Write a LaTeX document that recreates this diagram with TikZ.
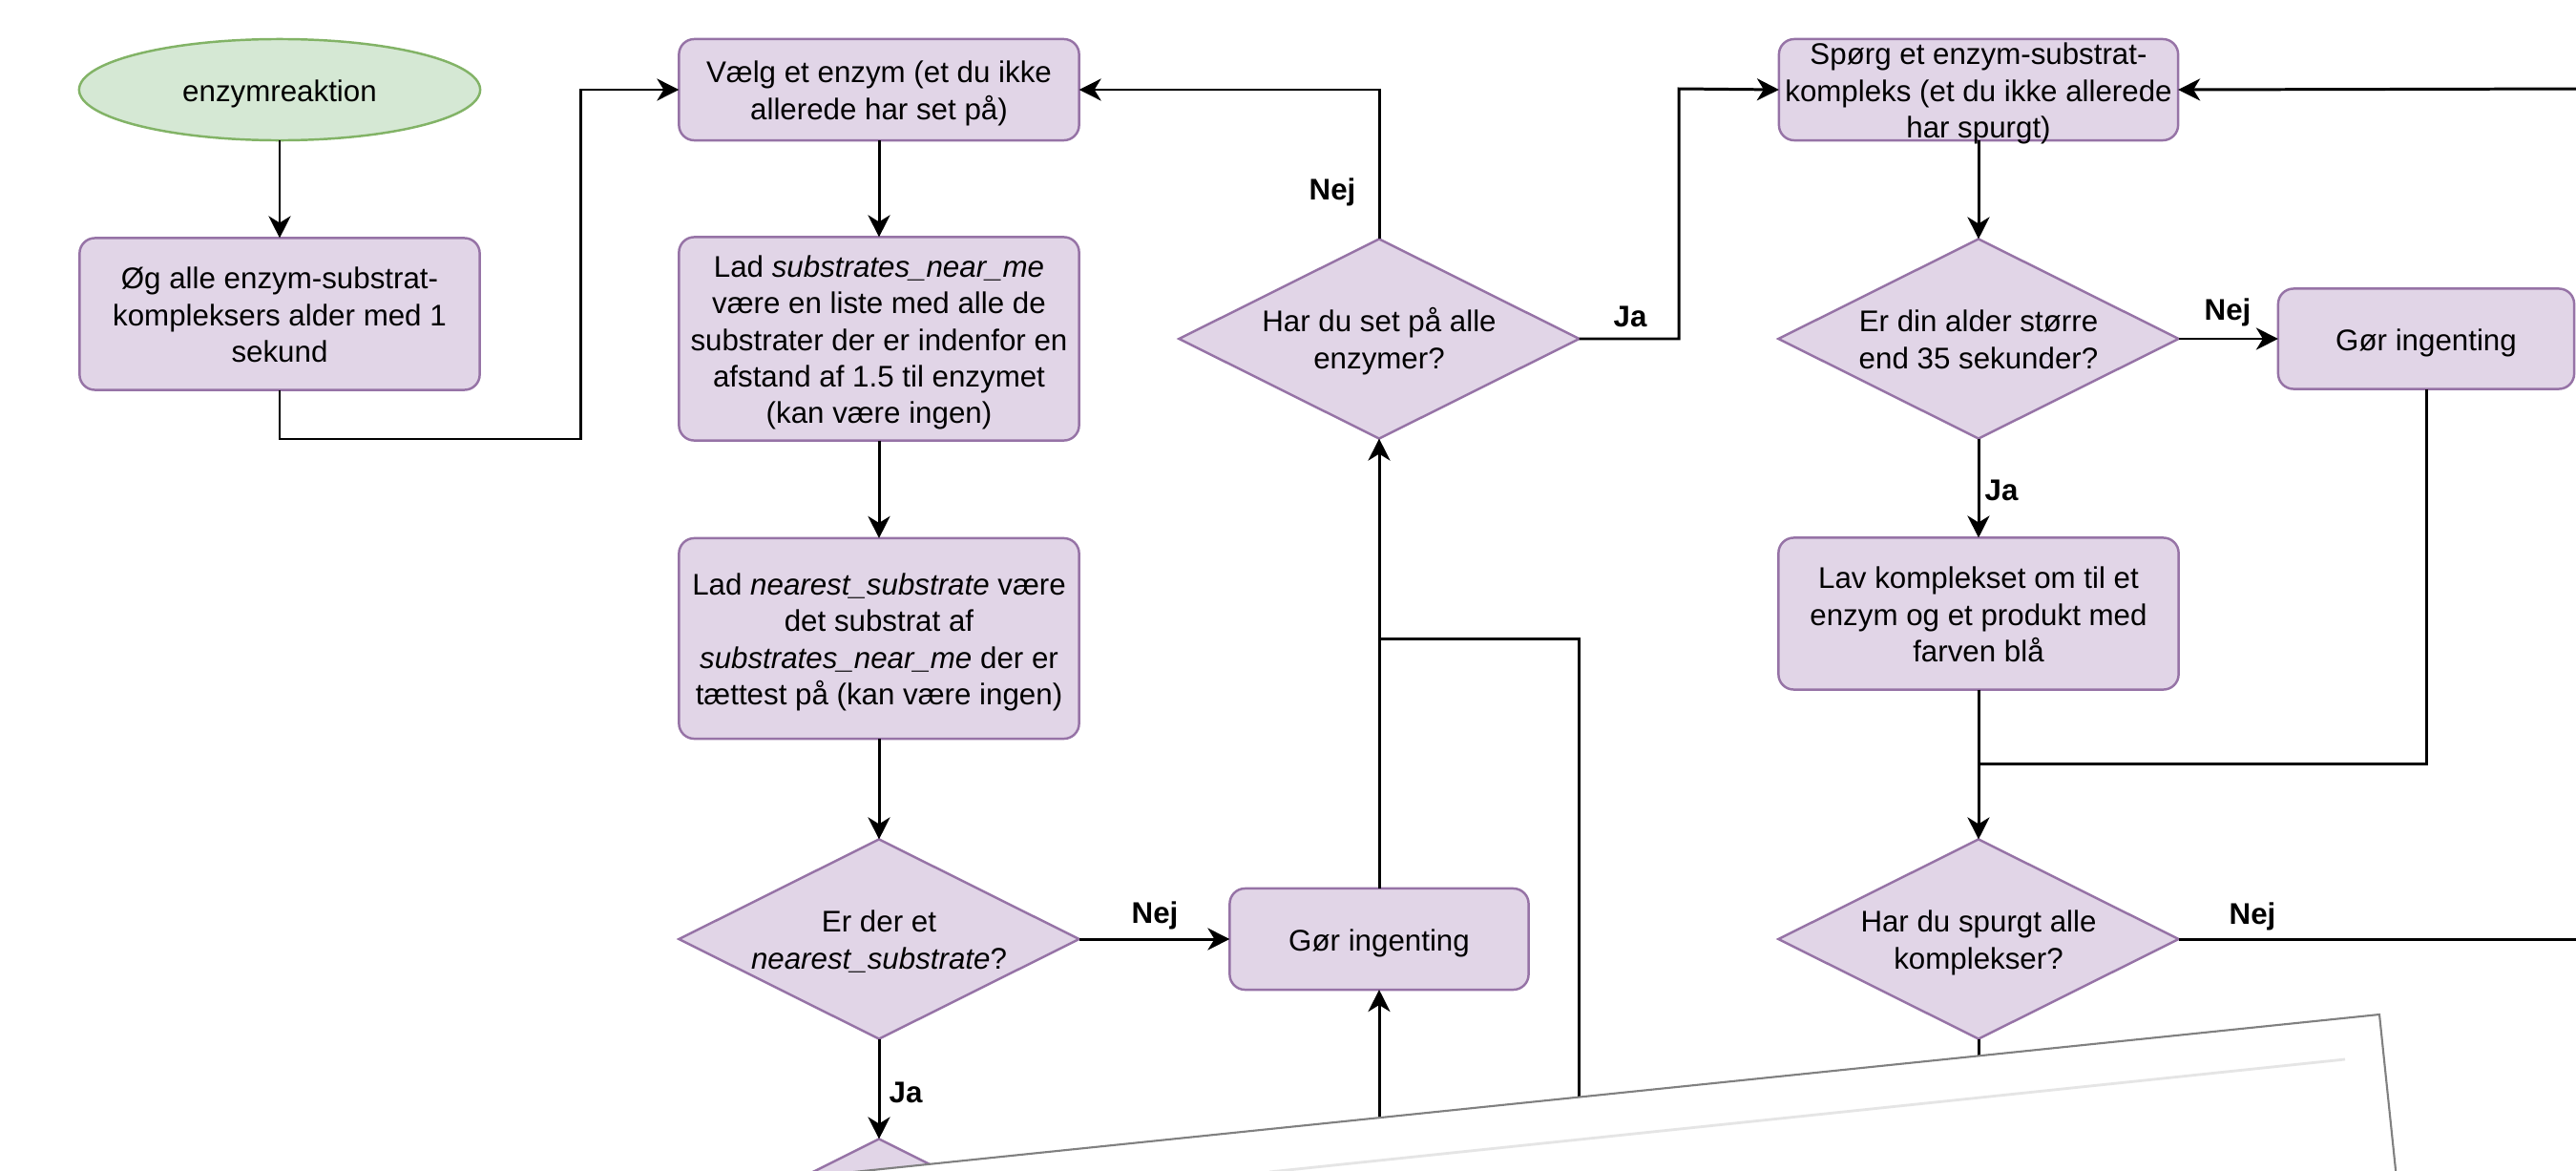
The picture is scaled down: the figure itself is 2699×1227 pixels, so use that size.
\documentclass[tikz,border=0pt]{standalone}
\usepackage{fontspec}
\setmainfont{Liberation Sans}
\usetikzlibrary{shapes.geometric,arrows.meta}
\definecolor{pfill}{HTML}{E1D5E7}
\definecolor{pline}{HTML}{9673A6}
\definecolor{gfill}{HTML}{D5E8D4}
\definecolor{gline}{HTML}{82B366}
\newcommand{\ntext}[1]{\makebox[0pt]{\smash{\raisebox{-3.5pt}{\begin{tabular}{@{}c@{}}#1\end{tabular}}}}}
\begin{document}
\begin{tikzpicture}[x=0.01cm, y=-0.01cm,
  font=\fontsize{8.9}{10.9}\selectfont,
  proc/.style={draw=pline, fill=pfill, line width=0.7pt, rounded corners=0.16cm, minimum width=4.19cm, inner sep=0pt, outer sep=0pt},
  dec/.style={diamond, draw=pline, fill=pfill, line width=0.7pt, minimum width=4.19cm, minimum height=2.09cm, inner sep=0pt, outer sep=0pt},
  startst/.style={ellipse, draw=gline, fill=gfill, line width=0.7pt, minimum width=4.2cm, minimum height=1.06cm, inner sep=0pt, outer sep=0pt},
  conn/.style={line width=0.85pt, draw=black},
  arr/.style={conn, -{Stealth[length=0.23cm,width=0.23cm,inset=0.07cm]}},
  lbl/.style={font=\fontsize{8.9}{10.9}\selectfont\bfseries, inner sep=0pt}]
\useasboundingbox (0,0) rectangle (2699,1227);
\clip (0,0) rectangle (2699,1227);

% nodes
\node[startst] (start) at (293,94) {\ntext{enzymreaktion}};
\node[proc, minimum height=1.59cm] (og) at (293,329) {\ntext{Øg alle enzym-substrat-\\kompleksers alder med 1\\sekund}};
\node[proc, minimum height=1.06cm] (vaelg) at (921,94) {\ntext{Vælg et enzym (et du ikke\\allerede har set på)}};
\node[proc, minimum height=2.13cm] (ladA) at (921,355) {\ntext{Lad \textit{substrates\_near\_me}\\være en liste med alle de\\substrater der er indenfor en\\afstand af 1.5 til enzymet\\(kan være ingen)}};
\node[proc, minimum height=2.10cm] (ladB) at (921,669) {\ntext{Lad \textit{nearest\_substrate} være\\det substrat af\\\textit{substrates\_near\_me} der er\\tættest på (kan være ingen)}};
\node[dec] (erder) at (921,984) {\ntext{Er der et\\\textit{nearest\_substrate}?}};
\node[proc, minimum width=3.13cm, minimum height=1.06cm] (gor1) at (1445,984) {\ntext{Gør ingenting}};
\node[dec] (hset) at (1445,355) {\ntext{Har du set på alle\\enzymer?}};
\node[dec] (hidden) at (921,1298) {};
\node[proc, minimum width=4.18cm, minimum height=1.06cm] (sporg) at (2073,94) {\ntext{Spørg et enzym-substrat-\\kompleks (et du ikke allerede\\har spurgt)}};
\node[dec] (alder) at (2073,355) {\ntext{Er din alder større\\end 35 sekunder?}};
\node[proc, minimum width=3.10cm, minimum height=1.05cm] (gor2) at (2542,355) {\ntext{Gør ingenting}};
\node[proc, minimum height=1.59cm] (lav) at (2073,643) {\ntext{Lav komplekset om til et\\enzym og et produkt med\\farven blå}};
\node[dec] (hspurgt) at (2073,984) {\ntext{Har du spurgt alle\\komplekser?}};

% helper coordinates
\coordinate (c1) at (608,460);
\coordinate (jaturn) at (1759,93);
\coordinate (c2) at (1654,1300);
\coordinate (c3) at (1445,669);
\coordinate (c4) at (1445,1300);
\coordinate (c5) at (2073,800);
\coordinate (c6) at (2720,984);
\coordinate (c7) at (2720,93);
\coordinate (c8) at (2073,1300);

% connectors
\draw[arr] (start.south) -- (og.north);
\draw[arr] (og.south) |- (c1) |- (vaelg.west);
\draw[arr] (vaelg.south) -- (ladA.north);
\draw[arr] (ladA.south) -- (ladB.north);
\draw[arr] (ladB.south) -- (erder.north);
\draw[arr] (erder.east) -- (gor1.west);
\draw[arr] (erder.south) -- (hidden.north);
\draw[arr] (gor1.north) -- (hset.south);
\draw[conn] (c2) |- (c3);
\draw[arr] (c4) -- (gor1.south);
\draw[arr] (hset.north) |- (vaelg.east);
\draw[arr] (hset.east) -| (jaturn) -- (sporg.west);
\draw[arr] (sporg.south) -- (alder.north);
\draw[arr] (alder.east) -- (gor2.west);
\draw[arr] (alder.south) -- (lav.north);
\draw[conn] (gor2.south) |- (c5);
\draw[arr] (lav.south) -- (hspurgt.north);
\draw[conn] (hspurgt.east) -- (c6);
\draw[arr] (c7) -- (sporg.east);
\draw[conn] (hspurgt.south) -- (c8);

% labels
\node[lbl] (l1) at (1396,201) {Nej};
\node[lbl] (l2) at (1708,332) {Ja};
\node[lbl] (l3) at (2334,327) {Nej};
\node[lbl] (l4) at (2097,514) {Ja};
\node[lbl] (l5) at (1210,959) {Nej};
\node[lbl] (l6) at (949,1145) {Ja};
\node[lbl] (l7) at (2360,960) {Nej};

% overlay sheet
\fill[white] (880,1229.5) -- (2493,1063) -- (2512,1245) -- (880,1245) -- cycle;
\draw[black!10, line width=0.8pt] (1330,1228) -- (2457,1110);
\draw[black!50, line width=0.6pt] (880,1229.5) -- (2493,1063) -- (2512,1245);
\end{tikzpicture}
\end{document}
